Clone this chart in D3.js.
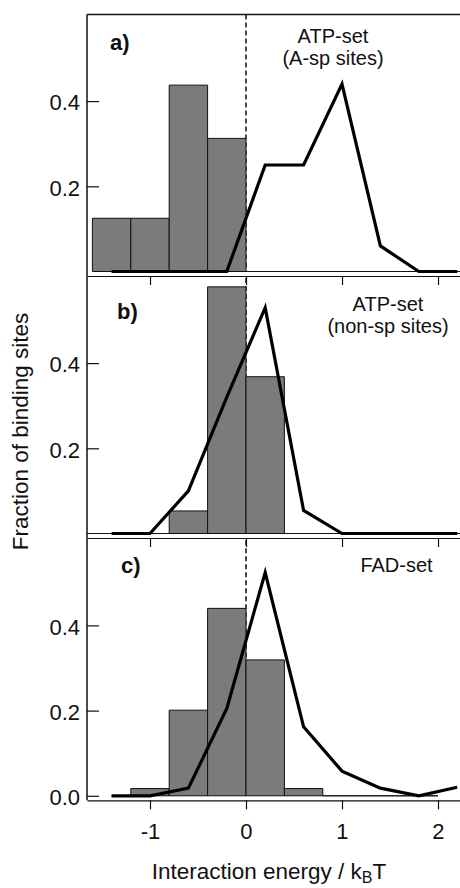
<!DOCTYPE html>
<html>
<head>
<meta charset="utf-8">
<script src="https://cdn.jsdelivr.net/npm/d3@7"></script>
<style>
  html, body { margin: 0; padding: 0; background: #fff; }
  svg { display: block; font-family: "Liberation Sans", Arial, Helvetica, sans-serif; }
</style>
</head>
<body>
<svg id="chart" width="460" height="888"></svg>
<script>
// histogram bins (edges) and fractions, curve points
const xTicks = [-1, 0, 1, 2];
const edgesAB = [-1.6, -1.2, -0.8, -0.4, 0, 0.4, 0.8, 1.2, 1.6, 2.0, 2.4];
const edgesC = [-1.4, -1.2, -0.8, -0.4, 0, 0.4, 0.8, 1.2, 1.6, 2.0];
const fractionA = [0.125, 0.125, 0.4375, 0.3125, 0, 0, 0, 0, 0, 0];
const fractionB = [0, 0, 0.053, 0.579, 0.368, 0, 0, 0, 0, 0];
const fractionC = [0, 0.017, 0.201, 0.44, 0.319, 0.017, 0, 0, 0];
const curveX = [-1.4, -1.0, -0.6, -0.2, 0.2, 0.6, 1.0, 1.4, 1.8, 2.2];
const curveA = [0, 0, 0, 0, 0.25, 0.25, 0.44, 0.06, 0, 0];
const curveB = [0, 0, 0.10, 0.32, 0.53, 0.054, 0, 0, 0, 0];
const curveC = [0, 0, 0.018, 0.205, 0.524, 0.162, 0.058, 0.018, 0, 0.02];
const yTicksAB = [0.2, 0.4];
const yTicksC = [0.0, 0.2, 0.4];

const panels = [
    {edges: edgesAB, frac: fractionA, curve: curveA, yTicks: yTicksAB, label: 'a)',
     notes: ['ATP-set', '(A-sp sites)'], y0: 271.5, top: 0.603, frame: true,
     labelAt: [110, 50], noteAt: [333, 42.7], xLabels: false},
    {edges: edgesAB, frac: fractionB, curve: curveB, yTicks: yTicksAB, label: 'b)',
     notes: ['ATP-set', '(non-sp sites)'], y0: 533.5, top: 0.6, frame: false,
     labelAt: [117, 319], noteAt: [388, 310.7], xLabels: false},
    {edges: edgesC, frac: fractionC, curve: curveC, yTicks: yTicksC, label: 'c)',
     notes: ['FAD-set'], y0: 795.8, top: 0.6, frame: false,
     labelAt: [121, 573], noteAt: [396.5, 571.7], xLabels: true}
];

const left = 87, right = 460, pxPerUnit = 426;
const svg = d3.select('#chart');

const x = d3.scaleLinear().domain([-1.6562, 2.2292]).range([left, right]);

panels.forEach(p => {
    const y = d3.scaleLinear().domain([0, p.top]).range([p.y0, p.y0 - p.top * pxPerUnit]);
    const g = svg.append('g');

    // dashed zero line
    g.append('line')
        .attr('x1', x(0)).attr('x2', x(0))
        .attr('y1', y(p.top)).attr('y2', y(0))
        .attr('stroke', '#111').attr('stroke-width', 1.5)
        .attr('stroke-dasharray', '5,3');

    // bars
    const bins = p.frac.map((f, i) => ({x0: p.edges[i], x1: p.edges[i + 1], f}));
    g.selectAll('path.bar')
        .data(bins)
        .enter()
        .append('path')
        .attr('class', 'bar')
        .attr('d', d => `M${x(d.x0)},${y(0)}V${y(d.f)}H${x(d.x1)}V${y(0)}Z`)
        .attr('fill', '#7b7b7b')
        .attr('stroke', '#111')
        .attr('stroke-width', 1);

    // thin baseline across the panel for panel b
    if (p.label === 'b)') {
        g.append('line')
            .attr('x1', left).attr('x2', right)
            .attr('y1', y(0)).attr('y2', y(0))
            .attr('stroke', '#111').attr('stroke-width', 1);
    }

    // curve
    const line = d3.line().x(d => x(d[0])).y(d => y(d[1]));
    g.append('path')
        .datum(curveX.map((v, i) => [v, p.curve[i]]))
        .attr('d', line)
        .attr('fill', 'none')
        .attr('stroke', '#000')
        .attr('stroke-width', 3.2)
        .attr('stroke-linejoin', 'miter');

    // x axis (offset below zero)
    const xAxis = d3.axisBottom(x)
        .tickValues(xTicks)
        .tickSize(9)
        .tickSizeOuter(0)
        .tickPadding(14)
        .tickFormat(p.xLabels ? d3.format('d') : () => '');
    const ax = g.append('g')
        .attr('transform', `translate(0,${p.y0 + 4.5})`)
        .call(xAxis);
    ax.select('.domain').attr('stroke', '#111').attr('stroke-width', 1.2);
    ax.selectAll('.tick line').attr('stroke', '#111').attr('stroke-width', 1.2);
    ax.selectAll('.tick text')
        .attr('font-size', 22).attr('fill', '#111')
        .attr('font-family', '"Liberation Sans", Arial, sans-serif')
        .text(d => p.xLabels ? String(d) : '');

    // y axis, ticks inward
    const yAxis = d3.axisLeft(y)
        .tickValues(p.yTicks)
        .tickSizeInner(-12)
        .tickSizeOuter(0)
        .tickPadding(7)
        .tickFormat(d3.format('.1f'));
    const ay = g.append('g')
        .attr('transform', `translate(${left},0)`)
        .call(yAxis);
    ay.select('.domain').remove();
    ay.selectAll('.tick line').attr('stroke', '#111').attr('stroke-width', 1.2);
    ay.selectAll('.tick text')
        .attr('font-size', 22).attr('fill', '#111')
        .attr('dy', '0.4em')
        .attr('font-family', '"Liberation Sans", Arial, sans-serif');

    if (p.frame) {
        g.append('line')
            .attr('x1', left).attr('x2', right)
            .attr('y1', y(p.top)).attr('y2', y(p.top))
            .attr('stroke', '#111').attr('stroke-width', 1.5);
    }

    // panel label
    g.append('text')
        .attr('x', p.labelAt[0]).attr('y', p.labelAt[1])
        .attr('font-size', 22).attr('font-weight', 'bold').attr('fill', '#111')
        .text(p.label);

    // annotation
    p.notes.forEach((n, i) => {
        g.append('text')
            .attr('x', p.noteAt[0]).attr('y', p.noteAt[1] + i * 22)
            .attr('text-anchor', 'middle')
            .attr('font-size', 20).attr('fill', '#111')
            .text(n);
    });
});

// left axis line through all panels
svg.append('line')
    .attr('x1', left).attr('x2', left)
    .attr('y1', panels[0].y0 - panels[0].top * pxPerUnit)
    .attr('y2', panels[2].y0 + 4.5)
    .attr('stroke', '#111').attr('stroke-width', 1.5);

// axis titles
svg.append('text')
    .attr('transform', 'translate(28,431.5) rotate(-90)')
    .attr('text-anchor', 'middle')
    .attr('font-size', 22.5).attr('fill', '#111')
    .text('Fraction of binding sites');

const xt = svg.append('text')
    .attr('x', 269).attr('y', 879)
    .attr('text-anchor', 'middle')
    .attr('font-size', 22.5).attr('fill', '#111');
xt.append('tspan').text('Interaction energy / k');
xt.append('tspan').attr('dy', 4).attr('font-size', 16).text('B');
xt.append('tspan').attr('dy', -4).text('T');
</script>
</body>
</html>
